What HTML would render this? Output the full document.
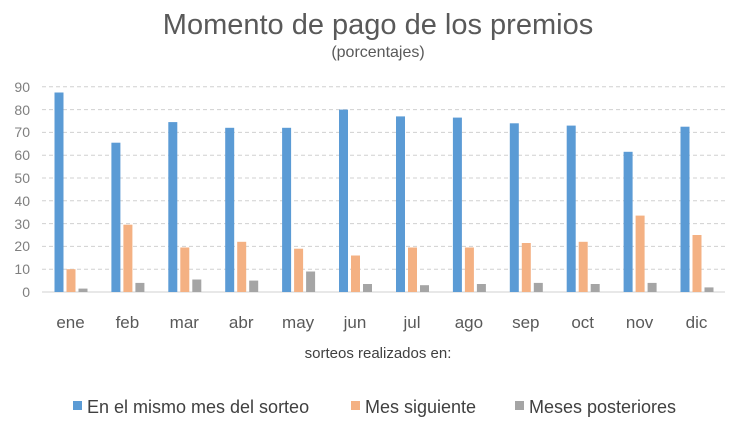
<!DOCTYPE html><html><head><style>body{margin:0;background:#fff}svg{font-family:"Liberation Sans",sans-serif}</style></head><body>
<svg width="756" height="438" xmlns="http://www.w3.org/2000/svg">
<rect width="756" height="438" fill="#fff"/>
<text x="378" y="34" text-anchor="middle" font-size="29" fill="#595959">Momento de pago de los premios</text>
<text x="378" y="57" text-anchor="middle" font-size="16" fill="#595959">(porcentajes)</text>
<g stroke="#d0d0d0" stroke-dasharray="4,3">
<line x1="42" x2="725" y1="269.2" y2="269.2"/><line x1="42" x2="725" y1="246.4" y2="246.4"/><line x1="42" x2="725" y1="223.6" y2="223.6"/><line x1="42" x2="725" y1="200.8" y2="200.8"/><line x1="42" x2="725" y1="178" y2="178"/><line x1="42" x2="725" y1="155.2" y2="155.2"/><line x1="42" x2="725" y1="132.4" y2="132.4"/><line x1="42" x2="725" y1="109.6" y2="109.6"/><line x1="42" x2="725" y1="86.8" y2="86.8"/>
</g>
<line x1="42" x2="725" y1="292" y2="292" stroke="#d0d0d0"/>
<g font-size="14" fill="#7f7f7f" text-anchor="end">
<text x="30" y="297">0</text><text x="30" y="274">10</text><text x="30" y="251">20</text><text x="30" y="229">30</text><text x="30" y="206">40</text><text x="30" y="183">50</text><text x="30" y="160">60</text><text x="30" y="137">70</text><text x="30" y="115">80</text><text x="30" y="92">90</text>
</g>
<g fill="#5b9bd5">
<rect x="54.5" y="92.5" width="9" height="199.5"/><rect x="111.4" y="142.7" width="9" height="149.3"/><rect x="168.3" y="122.1" width="9" height="169.9"/><rect x="225.2" y="127.8" width="9" height="164.2"/><rect x="282.1" y="127.8" width="9" height="164.2"/><rect x="339" y="109.6" width="9" height="182.4"/><rect x="396" y="116.4" width="9" height="175.6"/><rect x="452.9" y="117.6" width="9" height="174.4"/><rect x="509.8" y="123.3" width="9" height="168.7"/><rect x="566.7" y="125.6" width="9" height="166.4"/><rect x="623.6" y="151.8" width="9" height="140.2"/><rect x="680.5" y="126.7" width="9" height="165.3"/>
</g>
<g fill="#f4b183">
<rect x="66.5" y="269.2" width="9" height="22.8"/><rect x="123.4" y="224.7" width="9" height="67.3"/><rect x="180.3" y="247.5" width="9" height="44.5"/><rect x="237.2" y="241.8" width="9" height="50.2"/><rect x="294.1" y="248.7" width="9" height="43.3"/><rect x="351" y="255.5" width="9" height="36.5"/><rect x="408" y="247.5" width="9" height="44.5"/><rect x="464.9" y="247.5" width="9" height="44.5"/><rect x="521.8" y="243" width="9" height="49"/><rect x="578.7" y="241.8" width="9" height="50.2"/><rect x="635.6" y="215.6" width="9" height="76.4"/><rect x="692.5" y="235" width="9" height="57"/>
</g>
<g fill="#a5a5a5">
<rect x="78.5" y="288.6" width="9" height="3.4"/><rect x="135.4" y="282.9" width="9" height="9.1"/><rect x="192.3" y="279.5" width="9" height="12.5"/><rect x="249.2" y="280.6" width="9" height="11.4"/><rect x="306.1" y="271.5" width="9" height="20.5"/><rect x="363" y="284" width="9" height="8"/><rect x="420" y="285.2" width="9" height="6.8"/><rect x="476.9" y="284" width="9" height="8"/><rect x="533.8" y="282.9" width="9" height="9.1"/><rect x="590.7" y="284" width="9" height="8"/><rect x="647.6" y="282.9" width="9" height="9.1"/><rect x="704.5" y="287.4" width="9" height="4.6"/>
</g>
<g font-size="17" fill="#595959" text-anchor="middle">
<text x="70.5" y="328">ene</text><text x="127.4" y="328">feb</text><text x="184.3" y="328">mar</text><text x="241.2" y="328">abr</text><text x="298.1" y="328">may</text><text x="355" y="328">jun</text><text x="412" y="328">jul</text><text x="468.9" y="328">ago</text><text x="525.8" y="328">sep</text><text x="582.7" y="328">oct</text><text x="639.6" y="328">nov</text><text x="696.5" y="328">dic</text>
</g>
<text x="378" y="358" text-anchor="middle" font-size="15" fill="#404040">sorteos  realizados en:</text>
<rect x="73" y="401" width="9" height="9" fill="#5b9bd5"/><text x="87" y="413" font-size="18" fill="#404040">En el mismo mes del sorteo</text>
<rect x="351" y="401" width="9" height="9" fill="#f4b183"/><text x="365" y="413" font-size="18" fill="#404040">Mes siguiente</text>
<rect x="515" y="401" width="9" height="9" fill="#a5a5a5"/><text x="529" y="413" font-size="18" fill="#404040">Meses posteriores</text>
</svg></body></html>
